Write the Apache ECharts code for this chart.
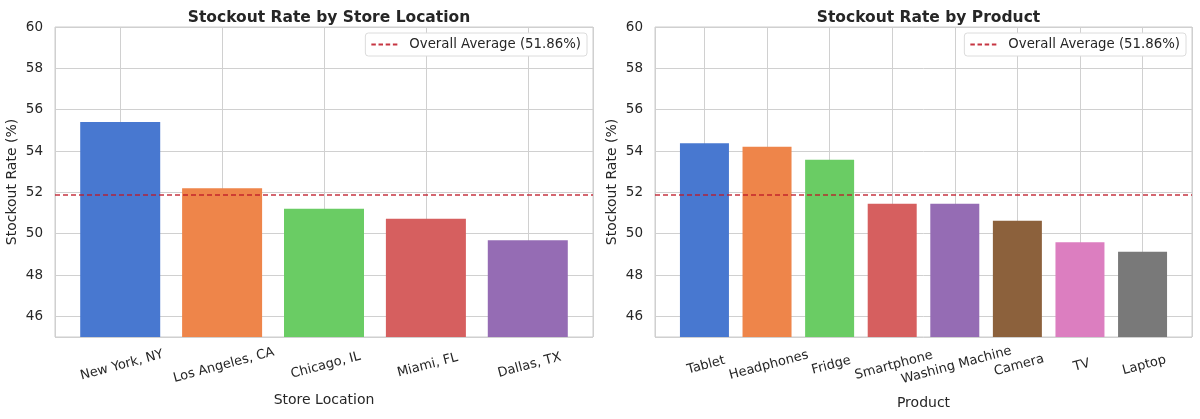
<!DOCTYPE html>
<html>
<head>
<meta charset="utf-8">
<script src="https://cdn.jsdelivr.net/npm/echarts@6/dist/echarts.min.js"></script>
<style>
  html, body { margin: 0; padding: 0; background: #fff; }
  #viz { width: 1200px; height: 419px; }
</style>
</head>
<body>
<div id="viz"></div>
<script>
const stores = ['New York, NY', 'Los Angeles, CA', 'Chicago, IL', 'Miami, FL', 'Dallas, TX']
const storeRates = [55.4, 52.2, 51.2, 50.72, 49.68]

const products = ['Tablet', 'Headphones', 'Fridge', 'Smartphone', 'Washing Machine', 'Camera', 'TV', 'Laptop']
const productRates = [54.38, 54.2, 53.58, 51.45, 51.45, 50.62, 49.58, 49.13]

const overallAvg = 51.86
const yTicks = [46, 48, 50, 52, 54, 56, 58, 60]

const palette = ['#4878d0', '#ee854a', '#6acc64', '#d65f5f', '#956cb4', '#8c613c', '#dc7ec0', '#797979']

const textColor = '#262626'
const gridColor = '#d0d0d0'
const font = '"DejaVu Sans", sans-serif'
const avgName = `Overall Average (${overallAvg.toFixed(2)}%)`
const avgColor = 'rgba(190, 25, 40, 0.88)'
// dashed line sample for the legend
const dashIcon = 'path://M0,0H5V2H0Z M8,0H13V2H8Z M16,0H21V2H16Z M24,0H29V2H24Z'

const panels = [
  { title: 'Stockout Rate by Store Location', xName: 'Store Location', cats: stores, vals: storeRates, left: 55, right: 607, barWidth: 80, pad: 0.64, xNameGap: 56 },
  { title: 'Stockout Rate by Product', xName: 'Product', cats: products, vals: productRates, left: 655, right: 8, barWidth: 49, pad: 0.79, xNameGap: 59 },
]

const myChart = echarts.init(document.getElementById('viz'), null, { renderer: 'canvas' })

const option = {
  backgroundColor: '#fff',
  animation: false,
  textStyle: { fontFamily: font, color: textColor },
  title: panels.map((p) => ({
    text: p.title,
    left: p.left + (1200 - p.left - p.right) / 2,
    textAlign: 'center',
    top: 5,
    textStyle: { fontFamily: font, fontSize: 15.5, fontWeight: 'bold', color: textColor },
  })),
  legend: panels.map((p) => ({
    data: [{ name: avgName, icon: dashIcon }],
    right: p.right + 6,
    top: 33,
    itemWidth: 26,
    itemHeight: 2,
    padding: [5, 6, 5, 6],
    backgroundColor: '#fff',
    borderColor: '#dcdcdc',
    borderWidth: 1,
    borderRadius: 3,
    itemStyle: { color: avgColor },
    textStyle: { fontFamily: font, fontSize: 13.3, color: textColor, padding: [0, 0, 0, 7] },
  })),
  grid: panels.map((p) => ({
    left: p.left,
    right: p.right,
    top: 27,
    bottom: 82,
    show: true,
    borderColor: '#cccccc',
    borderWidth: 1,
  })),
  xAxis: panels.map((p, i) => ({
    type: 'value',
    gridIndex: i,
    min: -p.pad,
    max: p.cats.length - 1 + p.pad,
    minInterval: 1,
    maxInterval: 1,
    name: p.xName,
    nameLocation: 'middle',
    nameGap: p.xNameGap,
    nameTextStyle: { fontFamily: font, fontSize: 14, color: textColor },
    axisLine: { show: false },
    axisTick: { show: false },
    splitLine: { show: true, lineStyle: { color: gridColor, width: 1 } },
    axisLabel: {
      rotate: 15,
      align: 'center',
      verticalAlign: 'top',
      margin: 22,
      fontFamily: font,
      fontSize: 13,
      color: textColor,
      showMinLabel: false,
      showMaxLabel: false,
      formatter: (v) => (Number.isInteger(v) && p.cats[v] !== undefined ? p.cats[v] : ''),
    },
  })),
  yAxis: panels.map((p, i) => ({
    type: 'value',
    gridIndex: i,
    min: 45,
    max: 60,
    minInterval: 2,
    maxInterval: 2,
    name: 'Stockout Rate (%)',
    nameLocation: 'middle',
    nameGap: 36,
    nameTextStyle: { fontFamily: font, fontSize: 14, color: textColor },
    axisLine: { show: false },
    axisTick: { show: false },
    splitLine: { show: true, lineStyle: { color: gridColor, width: 1 } },
    axisLabel: {
      fontFamily: font,
      fontSize: 13.5,
      color: textColor,
      margin: 12,
      showMinLabel: false,
      formatter: (v) => (yTicks.includes(v) ? String(v) : ''),
    },
  })),
  series: [],
}

panels.forEach((p, i) => {
  option.series.push({
    type: 'bar',
    xAxisIndex: i,
    yAxisIndex: i,
    barWidth: p.barWidth,
    data: p.vals.map((v, j) => ({ value: [j, v], itemStyle: { color: palette[j] } })),
    z: 2,
  })
  option.series.push({
    type: 'line',
    name: avgName,
    xAxisIndex: i,
    yAxisIndex: i,
    data: [],
    symbol: 'none',
    color: avgColor,
    lineStyle: { color: avgColor, type: [5, 3], width: 1.5 },
    markLine: {
      silent: true,
      symbol: 'none',
      label: { show: false },
      lineStyle: { color: avgColor, type: [5, 3], width: 1.5 },
      data: [{ yAxis: overallAvg }],
    },
    z: 5,
  })
})

myChart.setOption(option)
</script>
</body>
</html>
